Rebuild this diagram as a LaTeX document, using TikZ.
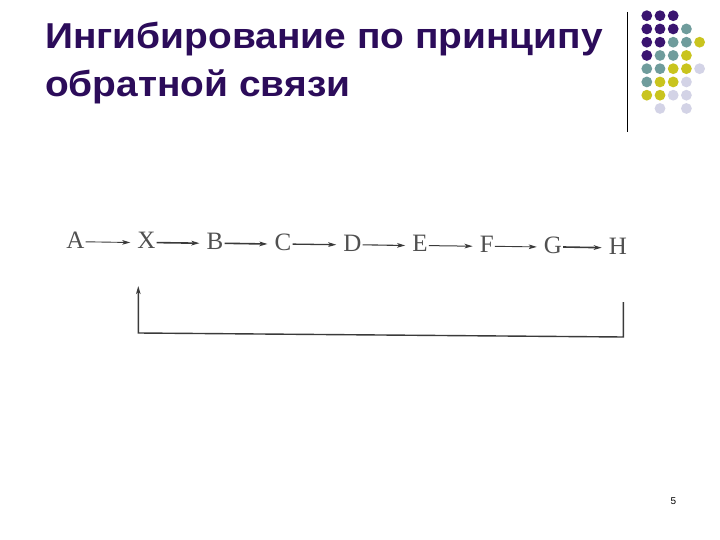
\documentclass[tikz,border=0pt]{standalone}
\usepackage{fontspec}
\setmainfont{Liberation Serif}
\newfontfamily\titlefont{Liberation Sans}
\usetikzlibrary{arrows.meta}
\definecolor{titlecol}{HTML}{2C0C5A}
\definecolor{dpurple}{HTML}{3A1470}
\definecolor{dteal}{HTML}{6F9C9C}
\definecolor{dyellow}{HTML}{C9C41E}
\definecolor{dlav}{HTML}{D3D3E6}
\definecolor{letcol}{HTML}{505050}
\definecolor{arrcol}{HTML}{3A3A3A}
\newcommand{\wtitle}[1]{\scalebox{1.08}[1]{#1}}
\tikzset{
  titletext/.style={anchor=base west, inner sep=0pt, text=titlecol, font=\titlefont\bfseries\fontsize{36}{42}\selectfont},
  letter/.style={inner sep=1pt, text=letcol, font=\fontsize{25}{27}\selectfont},
  chainarrow/.style={draw=arrcol, line width=1.1pt, -{Stealth[length=8pt,width=4.6pt,inset=2pt]}, shorten >=6pt},
  feedback/.style={draw=arrcol, line width=1.4pt},
  dot/.style={circle, inner sep=0pt, minimum size=10.8pt},
  pagenum/.style={inner sep=0pt, font=\titlefont\fontsize{10}{12}\selectfont}
}
\begin{document}
\begin{tikzpicture}[x=1pt,y=-1pt]
\useasboundingbox[fill=white] (0,0) rectangle (720,540);
% title
\node[titletext] (title1) at (45,48.5) {\wtitle{Ингибирование по принципу}};
\node[titletext] (title2) at (45,97) {\wtitle{обратной связи}};
% divider
\draw[line width=0.9pt] (627.3,12) -- (627.3,132);
% dots
\foreach \c/\col/\row in {
  dpurple/0/0, dpurple/1/0, dpurple/2/0,
  dpurple/0/1, dpurple/1/1, dpurple/2/1, dteal/3/1,
  dpurple/0/2, dpurple/1/2, dteal/2/2, dteal/3/2, dyellow/4/2,
  dpurple/0/3, dteal/1/3, dteal/2/3, dyellow/3/3,
  dteal/0/4, dteal/1/4, dyellow/2/4, dyellow/3/4, dlav/4/4,
  dteal/0/5, dyellow/1/5, dyellow/2/5, dlav/3/5,
  dyellow/0/6, dyellow/1/6, dlav/2/6, dlav/3/6,
  dlav/1/7, dlav/3/7}
  \node[dot, fill=\c] (dot-\col-\row) at ({646.8+13.2*\col},{15.7+13.25*\row}) {};
% chain
\node[letter] (A) at (75.5,240) {A};
\node[letter] (X) at (146.5,240.8) {X};
\node[letter] (B) at (215,241.5) {B};
\node[letter] (C) at (283,242.3) {C};
\node[letter] (D) at (352.5,243) {D};
\node[letter] (E) at (420,243.8) {E};
\node[letter] (F) at (486.7,244.5) {F};
\node[letter] (G) at (553,245.2) {G};
\node[letter] (H) at (618,246) {H};
\draw[chainarrow, line width=0.9pt] ([yshift=-1.8pt]A.east) -- ([yshift=-1.8pt]X.west);
\draw[chainarrow, line width=1.6pt] ([yshift=-1.8pt]X.east) -- ([yshift=-1.8pt]B.west);
\draw[chainarrow, line width=1.6pt] ([yshift=-1.8pt]B.east) -- ([yshift=-1.8pt]C.west);
\draw[chainarrow, line width=1.3pt] ([yshift=-1.8pt]C.east) -- ([yshift=-1.8pt]D.west);
\draw[chainarrow, line width=1.1pt] ([yshift=-1.8pt]D.east) -- ([yshift=-1.8pt]E.west);
\draw[chainarrow, line width=1.0pt] ([yshift=-1.8pt]E.east) -- ([yshift=-1.8pt]F.west);
\draw[chainarrow, line width=0.9pt] ([yshift=-1.8pt]F.east) -- ([yshift=-1.8pt]G.west);
\draw[chainarrow, line width=1.6pt] ([yshift=-1.8pt]G.east) -- ([yshift=-1.8pt]H.west);
% feedback
\coordinate (fbstart) at (623.3,302);
\coordinate (fbcornerR) at (623.3,337);
\coordinate (fbcornerL) at (138.3,333);
\coordinate (fbend) at (138.3,286);
\draw[feedback, -{Stealth[length=8pt,width=4.5pt,inset=2pt]}] (fbstart) -- (fbcornerR) -- (fbcornerL) -- (fbend);
% page number
\node[pagenum] (page) at (673.5,501.5) {5};
\end{tikzpicture}
\end{document}
